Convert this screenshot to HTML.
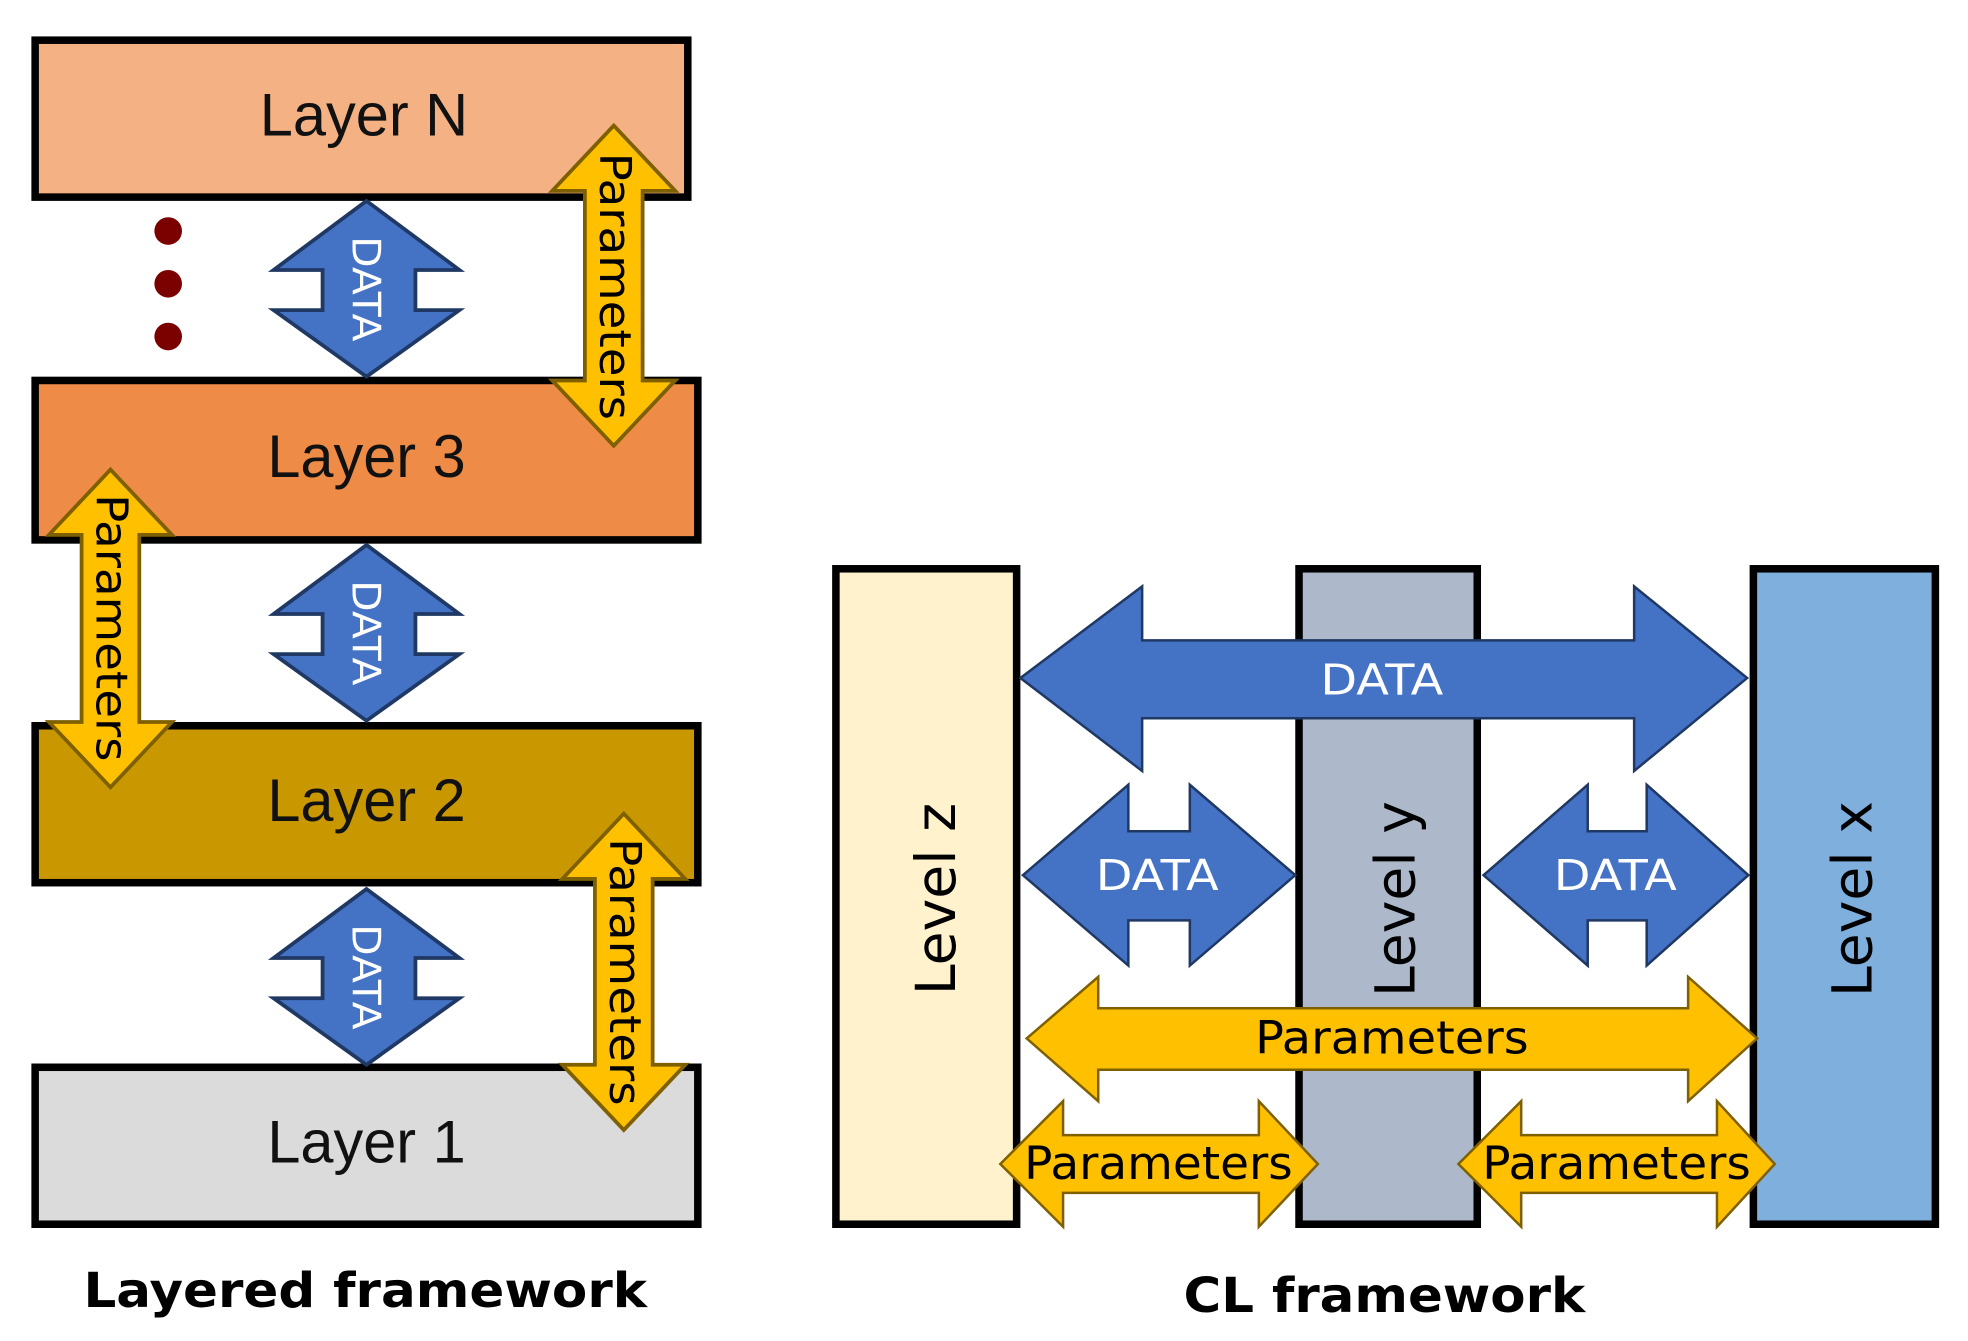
<!DOCTYPE html>
<html><head><style>html,body{margin:0;padding:0;background:#fff}svg{display:block}</style></head>
<body>
<svg width="1968" height="1341" viewBox="0 0 1568 1068" preserveAspectRatio="none" xmlns="http://www.w3.org/2000/svg" font-family="DejaVu Sans, sans-serif">
<defs>
<g id="vdata"><polygon points="0,0 74,55 39,55 39,87 74,87 0,140 -74,87 -35,87 -35,55 -74,55" fill="#4472C4" stroke="#1F3864" stroke-width="3"/></g>
</defs>
<rect x="28" y="32" width="520" height="125" fill="#F4B183" stroke="#000" stroke-width="6"/>
<rect x="28" y="303" width="528" height="127" fill="#EE8B47" stroke="#000" stroke-width="6"/>
<rect x="28" y="578" width="528" height="125" fill="#C99800" stroke="#000" stroke-width="6"/>
<rect x="28" y="850" width="528" height="125" fill="#DBDBDB" stroke="#000" stroke-width="6"/>
<g font-size="48" text-anchor="middle" fill="#111" font-family="Liberation Sans Narrow, Liberation Sans, sans-serif">
<text x="290" y="108" textLength="166" lengthAdjust="spacingAndGlyphs">Layer N</text>
<text x="292" y="380" textLength="158" lengthAdjust="spacingAndGlyphs">Layer 3</text>
<text x="292" y="654" textLength="158" lengthAdjust="spacingAndGlyphs">Layer 2</text>
<text x="292" y="926" textLength="158" lengthAdjust="spacingAndGlyphs">Layer 1</text>
</g>
<circle cx="134" cy="184" r="11" fill="#7B0000"/>
<circle cx="134" cy="226" r="11" fill="#7B0000"/>
<circle cx="134" cy="268" r="11" fill="#7B0000"/>
<use href="#vdata" transform="translate(292,160)"/>
<use href="#vdata" transform="translate(292,434)"/>
<use href="#vdata" transform="translate(292,708)"/>
<g fill="#fff" font-size="31" text-anchor="middle">
<text transform="translate(281,230) rotate(90)" textLength="84" lengthAdjust="spacingAndGlyphs">DATA</text>
<text transform="translate(281,504) rotate(90)" textLength="84" lengthAdjust="spacingAndGlyphs">DATA</text>
<text transform="translate(281,778) rotate(90)" textLength="84" lengthAdjust="spacingAndGlyphs">DATA</text>
</g>
<g fill="#FFC000" stroke="#7F6000" stroke-width="3">
<polygon points="489,100 538,152 512,152 512,303 538,303 489,355 440,303 466,303 466,152 440,152"/>
<polygon points="88,374 137,426 111,426 111,575 137,575 88,627 39,575 65,575 65,426 39,426"/>
<polygon points="497,648 546,700 520,700 520,848 546,848 497,900 448,848 474,848 474,700 448,700"/>
</g>
<g fill="#000" font-size="35" text-anchor="middle">
<text transform="translate(478,228) rotate(90)" textLength="213" lengthAdjust="spacingAndGlyphs">Parameters</text>
<text transform="translate(77,500) rotate(90)" textLength="213" lengthAdjust="spacingAndGlyphs">Parameters</text>
<text transform="translate(486,774) rotate(90)" textLength="213" lengthAdjust="spacingAndGlyphs">Parameters</text>
</g>
<rect x="666" y="453" width="144" height="522" fill="#FFF2CC" stroke="#000" stroke-width="6"/>
<rect x="1035" y="453" width="142" height="522" fill="#ADB9CA" stroke="#000" stroke-width="6"/>
<rect x="1397" y="453" width="145" height="522" fill="#7FAFDC" stroke="#000" stroke-width="6"/>
<g font-size="44" text-anchor="middle" fill="#000">
<text transform="translate(761,716) rotate(-90)">Level z</text>
<text transform="translate(1127,716) rotate(-90)">Level y</text>
<text transform="translate(1491,716) rotate(-90)">Level x</text>
</g>
<g fill="#4472C4" stroke="#1F3864" stroke-width="2">
<polygon points="813,540 910,467 910,510 1302,510 1302,467 1392,540 1302,614 1302,572 910,572 910,614"/>
<polygon points="815,697 899,625 899,662 948,662 948,625 1032,697 948,769 948,733 899,733 899,769"/>
<polygon points="1182,697 1265,625 1265,662 1312,662 1312,625 1393,697 1312,769 1312,733 1265,733 1265,769"/>
</g>
<g fill="#fff" font-size="34" text-anchor="middle">
<text x="1101" y="553" textLength="98" lengthAdjust="spacingAndGlyphs">DATA</text>
<text x="922" y="709" textLength="98" lengthAdjust="spacingAndGlyphs">DATA</text>
<text x="1287" y="709" textLength="98" lengthAdjust="spacingAndGlyphs">DATA</text>
</g>
<g fill="#FFC000" stroke="#7F6000" stroke-width="2">
<polygon points="818,827 875,778 875,803 1345,803 1345,778 1400,827 1345,877 1345,852 875,852 875,877"/>
<polygon points="797,927 847,877 847,904 1003,904 1003,877 1050,927 1003,977 1003,950 847,950 847,977"/>
<polygon points="1162,927 1212,877 1212,904 1368,904 1368,877 1414,927 1368,977 1368,950 1212,950 1212,977"/>
</g>
<g fill="#000" font-size="36" text-anchor="middle">
<text x="1109" y="839" textLength="218" lengthAdjust="spacingAndGlyphs">Parameters</text>
<text x="923" y="939" textLength="214" lengthAdjust="spacingAndGlyphs">Parameters</text>
<text x="1288" y="939" textLength="214" lengthAdjust="spacingAndGlyphs">Parameters</text>
</g>
<g font-size="38" font-weight="bold" text-anchor="middle" fill="#000">
<text x="291" y="1041" textLength="449" lengthAdjust="spacingAndGlyphs">Layered framework</text>
<text x="1103" y="1045" textLength="320" lengthAdjust="spacingAndGlyphs">CL framework</text>
</g>
</svg>
</body></html>
